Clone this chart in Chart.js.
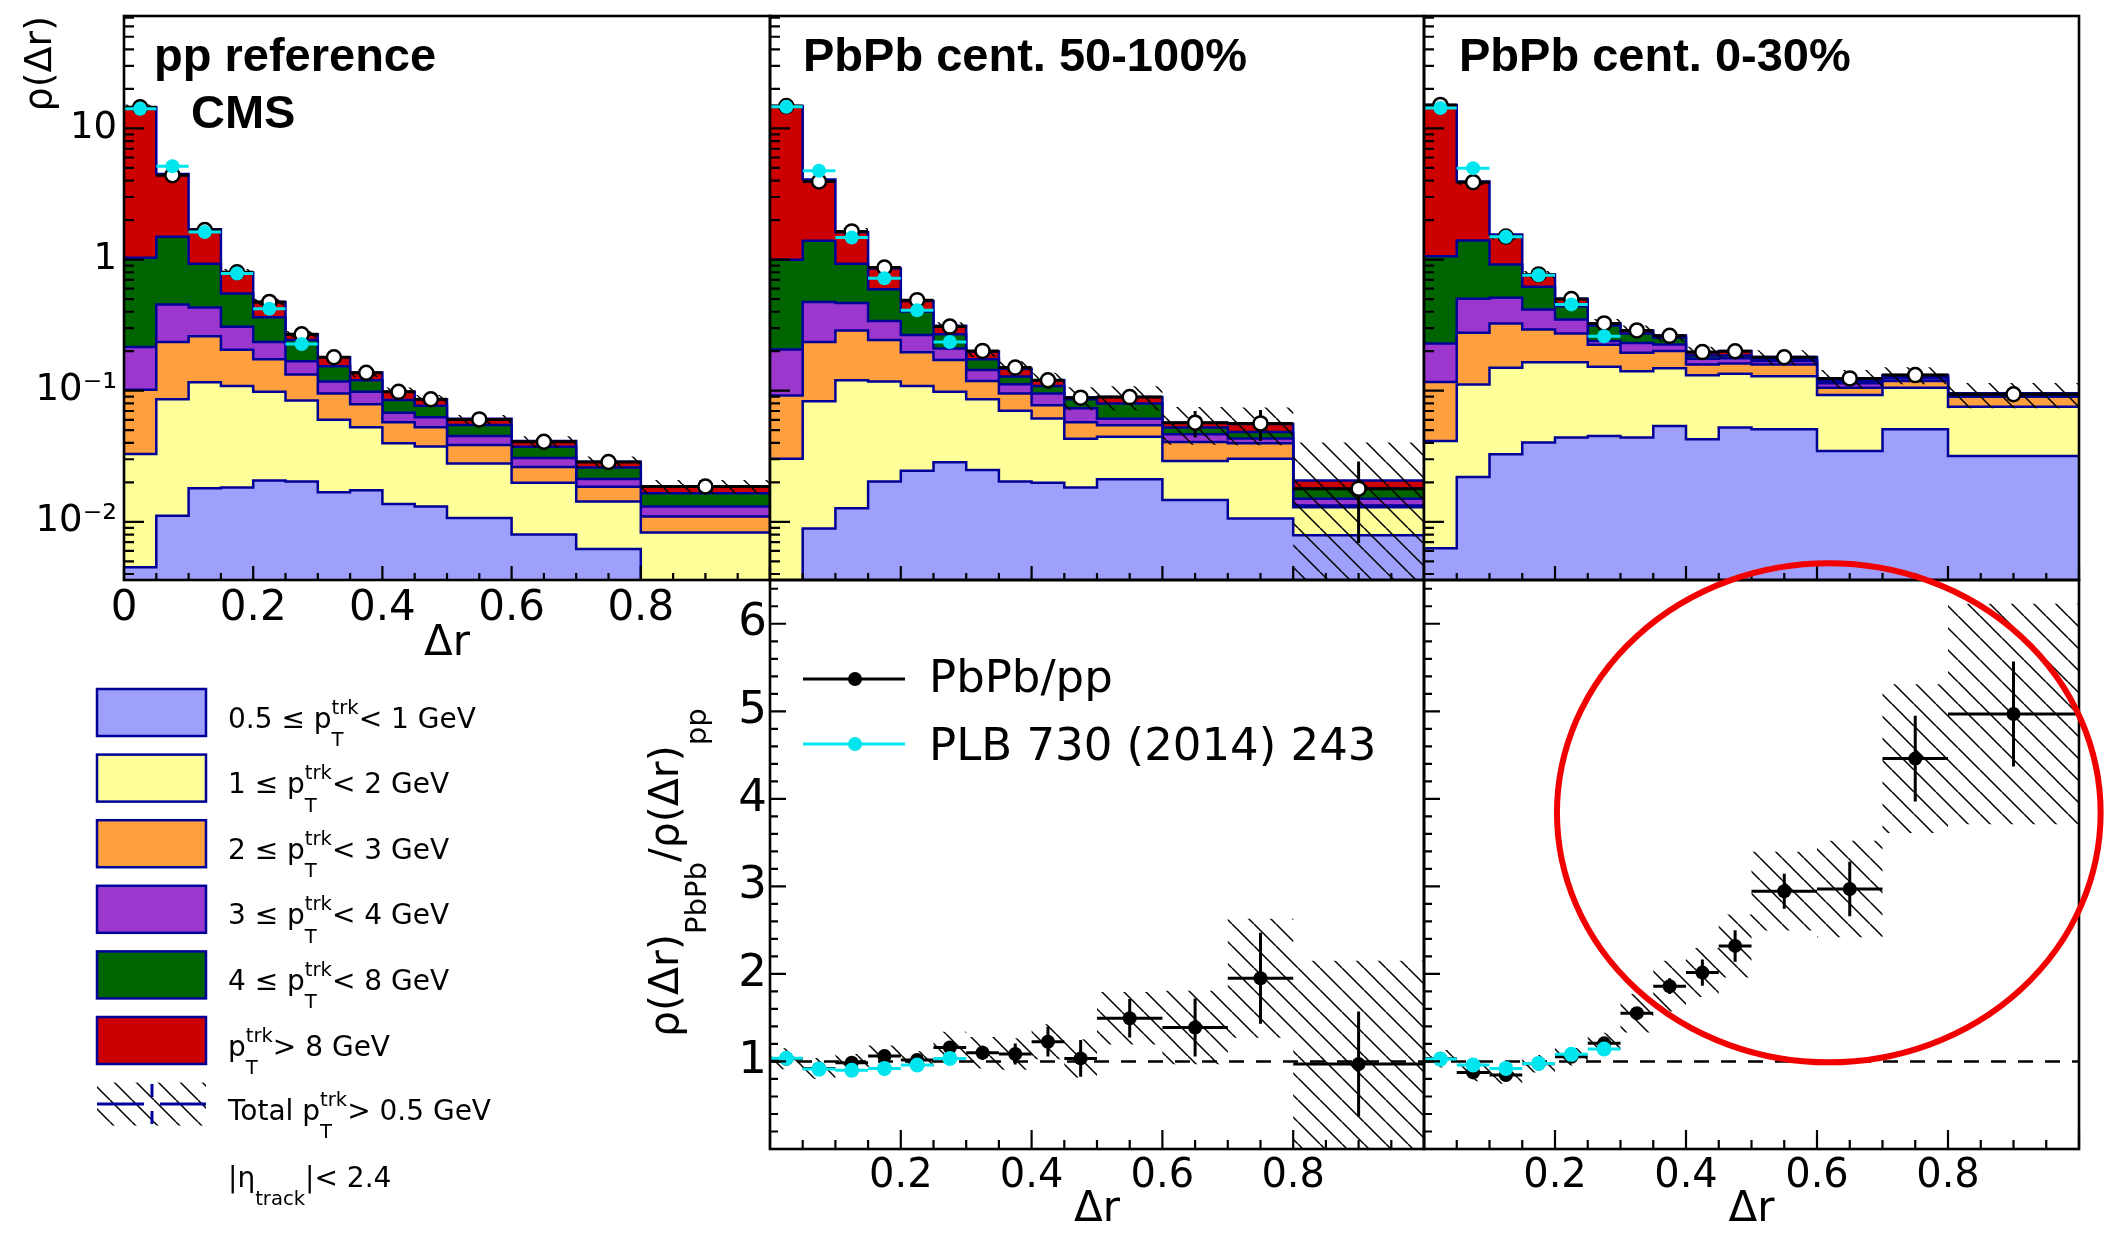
<!DOCTYPE html>
<html>
<head>
<meta charset="utf-8">
<title>Jet shapes decomposed by track pT</title>
<script src="https://cdn.jsdelivr.net/npm/chart.js@4.4.1/dist/chart.umd.min.js"></script>
<style>
  html, body { margin: 0; padding: 0; background: #ffffff; }
  #figure { position: relative; width: 2107px; height: 1240px; overflow: hidden; background: #ffffff; }
  #figure canvas { position: absolute; left: 0; top: 0; }
</style>
</head>
<body>
<div id="figure">
  <canvas id="ppTop" width="2107" height="1240"></canvas>
  <canvas id="periphTop" width="2107" height="1240"></canvas>
  <canvas id="centralTop" width="2107" height="1240"></canvas>
  <canvas id="periphRatio" width="2107" height="1240"></canvas>
  <canvas id="centralRatio" width="2107" height="1240"></canvas>
</div>
<script>
// ---------------------------------------------------------------
// Δr binning shared by every panel
const binEdges = [0, 0.05, 0.1, 0.15, 0.2, 0.25, 0.3, 0.35, 0.4, 0.45, 0.5, 0.6, 0.7, 0.8, 1.0];

// ρ(Δr) contributions per track-pT interval, pp reference
const ppPt0p5to1 = [0.0045, 0.0111, 0.018, 0.0183, 0.0207, 0.0203, 0.0168, 0.0174, 0.0137, 0.0131, 0.0107, 0.0080, 0.0062, 0.0025];
const ppPt1to2   = [0.0284, 0.0748, 0.098, 0.0903, 0.0775, 0.0638, 0.0433, 0.0352, 0.026, 0.0245, 0.0172, 0.0119, 0.0081, 0.0058];
const ppPt2to3   = [0.0687, 0.149, 0.144, 0.097, 0.0756, 0.0487, 0.035, 0.0261, 0.0177, 0.015, 0.0106, 0.0063, 0.0042, 0.0027];
const ppPt3to4   = [0.114, 0.219, 0.170, 0.102, 0.061, 0.0352, 0.0226, 0.0195, 0.0105, 0.0101, 0.0066, 0.0045, 0.0027, 0.0021];
const ppPt4to8   = [0.815, 1.036, 0.501, 0.243, 0.129, 0.075, 0.036, 0.0218, 0.0169, 0.0139, 0.0096, 0.0067, 0.0048, 0.0034];
const ppPtAbove8 = [13.5, 3.0, 0.77, 0.247, 0.111, 0.026, 0.026, 0.0175, 0.0134, 0.0093, 0.0065, 0.0039, 0.0027, 0.0022];
const ppTotal    = [14.5, 4.4, 1.68, 0.80, 0.475, 0.269, 0.18, 0.137, 0.098, 0.086, 0.0604, 0.0408, 0.0286, 0.0186];
const ppTotalStat = [0, 0, 0, 0, 0, 0, 0, 0, 0, 0, 0, 0, 0, 0.001];
const ppTotalSystRel = [0.05, 0.05, 0.05, 0.06, 0.06, 0.06, 0.07, 0.07, 0.08, 0.08, 0.08, 0.1, 0.1, 0.12];
const ppPLB      = [14.1, 5.15, 1.62, 0.782, 0.421, 0.227];

// PbPb, centrality 50-100%
const periphPt0p5to1 = [0.003, 0.0089, 0.0127, 0.0203, 0.0245, 0.0284, 0.0248, 0.0203, 0.0199, 0.0183, 0.0211, 0.0147, 0.0106, 0.0079];
const periphPt1to2   = [0.0273, 0.0741, 0.1073, 0.0974, 0.0841, 0.0698, 0.0611, 0.0499, 0.0415, 0.0247, 0.0235, 0.0144, 0.0197, 0.0050];
const periphPt2to3   = [0.0615, 0.152, 0.1677, 0.1253, 0.0874, 0.0732, 0.0327, 0.0249, 0.0162, 0.0144, 0.0098, 0.0115, 0.0094, 0.0004];
const periphPt3to4   = [0.114, 0.24, 0.178, 0.097, 0.0695, 0.0386, 0.0254, 0.0171, 0.0175, 0.0162, 0.0068, 0.0059, 0.0034, 0.0017];
const periphPt4to8   = [0.789, 0.918, 0.465, 0.253, 0.137, 0.059, 0.0298, 0.0163, 0.0135, 0.0123, 0.0188, 0.0058, 0.0053, 0.0029];
const periphPtAbove8 = [13.8, 2.68, 0.682, 0.26, 0.08, 0.044, 0.0249, 0.0185, 0.0114, 0.0028, 0.0094, 0.0047, 0.0072, 0.0028];
const periphTotal    = [14.8, 3.94, 1.64, 0.87, 0.49, 0.308, 0.201, 0.150, 0.120, 0.0885, 0.0894, 0.057, 0.0563, 0.0179];
const periphTotalStat = [0, 0, 0, 0, 0, 0, 0.002, 0.003, 0.004, 0.005, 0.005, 0.013, 0.015, 0.011];
const periphTotalSystRel = [0.05, 0.05, 0.06, 0.06, 0.07, 0.08, 0.1, 0.12, 0.14, 0.2, 0.21, 0.32, 0.32, 1.25];
const periphPLB      = [14.6, 4.75, 1.47, 0.721, 0.410, 0.235];

// PbPb, centrality 0-30%
const centralPt0p5to1 = [0.0063, 0.022, 0.0327, 0.0402, 0.0439, 0.0451, 0.0439, 0.0537, 0.0426, 0.0523, 0.0507, 0.0347, 0.0507, 0.0318];
const centralPt1to2   = [0.035, 0.0897, 0.117, 0.1248, 0.1211, 0.1069, 0.097, 0.0943, 0.0883, 0.0824, 0.0784, 0.0579, 0.0547, 0.0437];
const centralPt2to3   = [0.0751, 0.1648, 0.1763, 0.128, 0.108, 0.072, 0.0536, 0.0524, 0.0276, 0.0268, 0.0294, 0.0128, 0.0129, 0.0145];
const centralPt3to4   = [0.1126, 0.2255, 0.185, 0.123, 0.076, 0.015, 0.037, 0.0249, 0.0168, 0.0155, 0.010, 0.0083, 0.006, 0.002];
const centralPt4to8   = [0.831, 0.894, 0.405, 0.203, 0.092, 0.0753, 0.041, 0.0277, 0.0105, 0.0088, 0.006, 0.0055, 0.004, 0.002];
const centralPtAbove8 = [14.0, 2.54, 0.634, 0.15, 0.061, 0.012, 0.015, 0.0107, 0.011, 0.0146, 0.0058, 0.0048, 0.0032, 0.0014];
const centralTotal    = [15.1, 3.89, 1.50, 0.77, 0.50, 0.326, 0.288, 0.262, 0.197, 0.200, 0.180, 0.124, 0.1315, 0.094];
const centralTotalStat = [0, 0, 0, 0, 0, 0, 0, 0, 0, 0, 0, 0, 0, 0];
const centralTotalSystRel = [0.05, 0.05, 0.05, 0.06, 0.07, 0.08, 0.09, 0.1, 0.1, 0.11, 0.13, 0.16, 0.15, 0.22];
const centralPLB      = [14.3, 4.98, 1.49, 0.760, 0.455, 0.26];

// ρ(Δr)_PbPb / ρ(Δr)_pp
const ratioPeriph     = [1.03, 0.92, 0.985, 1.062, 1.016, 1.16, 1.10, 1.085, 1.226, 1.035, 1.494, 1.388, 1.95, 0.97];
const ratioPeriphStat = [0.02, 0.02, 0.03, 0.03, 0.03, 0.06, 0.08, 0.12, 0.17, 0.21, 0.22, 0.33, 0.52, 0.6];
const ratioPeriphSyst = [0.12, 0.12, 0.1, 0.12, 0.1, 0.18, 0.18, 0.18, 0.2, 0.22, 0.30, 0.42, 0.68, 1.18];
const ratioPeriphPLB  = [1.036, 0.913, 0.90, 0.92, 0.959, 1.035];

const ratioCentral     = [1.03, 0.875, 0.844, 0.975, 1.054, 1.207, 1.552, 1.86, 2.015, 2.32, 2.945, 2.97, 4.46, 4.97];
const ratioCentralStat = [0.02, 0.02, 0.02, 0.02, 0.03, 0.04, 0.05, 0.09, 0.15, 0.18, 0.2, 0.31, 0.49, 0.6];
const ratioCentralSyst = [0.1, 0.1, 0.1, 0.1, 0.1, 0.12, 0.22, 0.29, 0.28, 0.36, 0.45, 0.55, 0.85, 1.26];
const ratioCentralPLB  = [1.027, 0.959, 0.921, 0.978, 1.081, 1.142];

// Axis tick labels
const topXTickValues = [0, 0.2, 0.4, 0.6, 0.8];
const topXTickLabels = ['0', '0.2', '0.4', '0.6', '0.8'];
const ratioXTickValues = [0.2, 0.4, 0.6, 0.8];
const ratioXTickLabels = ['0.2', '0.4', '0.6', '0.8'];
const rhoTickValues = [0.01, 0.1, 1, 10];
const rhoTickLabels = ['10⁻²', '10⁻¹', '1', '10'];
const ratioYTickValues = [1, 2, 3, 4, 5, 6];
const ratioYTickLabels = ['1', '2', '3', '4', '5', '6'];

// Legend texts (strings, or stacked sub/superscript pairs)
const TRK = { sub: 'T', sup: 'trk' };
const ptBinLegend = [
  ['0.5 ≤ p', TRK, '< 1 GeV'],
  ['1 ≤ p', TRK, '< 2 GeV'],
  ['2 ≤ p', TRK, '< 3 GeV'],
  ['3 ≤ p', TRK, '< 4 GeV'],
  ['4 ≤ p', TRK, '< 8 GeV'],
  ['p', TRK, '> 8 GeV']
];
const totalLegend = ['Total p', TRK, '> 0.5 GeV'];
const etaLegend = ['|η', { sub: 'track' }, '|< 2.4'];
const ratioTitle = ['ρ(Δr)', { sub: 'PbPb' }, '/ρ(Δr)', { sub: 'pp' }];

// ---------------------------------------------------------------
const W = 2107, H = 1240;
const SANS = '"DejaVu Sans", sans-serif';
const BOLD = '"Liberation Sans", Arial, sans-serif';
const ptColors = ['#9f9ffc', '#ffff99', '#ff9f3d', '#9b37cd', '#006400', '#cc0000'];
const outlineColor = '#000099';
const plbColor = '#00e5ee';
const rhoMin = 0.0036, rhoMax = 72;
const ratioMin = 0, ratioMax = 6.5;

Chart.defaults.font.family = SANS;
Chart.defaults.color = '#000';

const binCenters = binEdges.slice(0, -1).map((e, i) => (e + binEdges[i + 1]) / 2);

function range(a, b, step) {
  const out = [];
  for (let v = a; v <= b + 1e-9; v += step) out.push(+v.toFixed(4));
  return out;
}
const xMajorMarks = range(0, 1, 0.2);
const xMinorMarks = range(0, 1, 0.05);
const logMajorMarks = rhoTickValues;
const logMinorMarks = [];
for (let d = -3; d <= 1; d++) for (let m = 2; m <= 9; m++) {
  const v = m * Math.pow(10, d);
  if (v > rhoMin && v < rhoMax) logMinorMarks.push(v);
}
const ratioMajorMarks = range(0, 6, 1);
const ratioMinorMarks = range(0, 6.4, 0.2);

// ---------- data helpers: everything goes through the chart scales ----------
function stepData(vals) {
  const pts = vals.map((v, i) => ({ x: binEdges[i], y: v }));
  pts.push({ x: binEdges[vals.length], y: vals[vals.length - 1] });
  return pts;
}
function hBarData(vals) {
  const out = [];
  vals.forEach((v, i) => out.push({ x: binEdges[i], y: v }, { x: binEdges[i + 1], y: v }, { x: binEdges[i + 1], y: null }));
  return out;
}
function vBarData(vals, errs, floor) {
  const out = [];
  vals.forEach((v, i) => {
    if (!errs[i]) return;
    out.push({ x: binCenters[i], y: Math.max(v - errs[i], floor) }, { x: binCenters[i], y: v + errs[i] }, { x: binCenters[i], y: null });
  });
  return out;
}
function pointData(vals) { return vals.map((v, i) => ({ x: binCenters[i], y: v })); }

function makeHatch(canvasId) {
  const s = 22;
  const tile = document.createElement('canvas');
  tile.width = s; tile.height = s;
  const g = tile.getContext('2d');
  g.strokeStyle = '#000';
  g.lineWidth = 1.5;
  g.beginPath();
  for (const o of [-s, 0, s]) { g.moveTo(o, 0); g.lineTo(o + s, s); }
  g.stroke();
  return document.getElementById(canvasId).getContext('2d').createPattern(tile, 'repeat');
}

function distributionDatasets(hatch, layers, total, stat, systRel, plb) {
  const sets = [];
  let run = layers[0].map(() => 0);
  layers.forEach((layer, k) => {
    run = run.map((r, i) => r + layer[i]);
    sets.push({ data: stepData(run), stepped: true, fill: 'start', backgroundColor: ptColors[k],
      borderColor: outlineColor, borderWidth: 2.5, pointRadius: 0, order: 100 + k });
  });
  sets.push({ data: stepData(total.map((t, i) => Math.max(t * (1 - systRel[i]), 1e-4))), stepped: true,
    fill: false, borderWidth: 0, pointRadius: 0, order: 61 });
  sets.push({ data: stepData(total.map((t, i) => t * (1 + systRel[i]))), stepped: true,
    fill: '-1', backgroundColor: hatch, borderWidth: 0, pointRadius: 0, order: 60 });
  sets.push({ data: hBarData(total).concat(vBarData(total, stat, 1e-4)), borderColor: '#000', borderWidth: 3,
    pointRadius: 0, fill: false, order: 50 });
  sets.push({ data: pointData(total), showLine: false, pointRadius: 7, pointBorderWidth: 2.5,
    pointBackgroundColor: '#ffffff', pointBorderColor: '#000', order: 40 });
  sets.push({ data: hBarData(plb), borderColor: plbColor, borderWidth: 3, pointRadius: 0, fill: false, order: 30 });
  sets.push({ data: pointData(plb), showLine: false, pointRadius: 7, pointBorderWidth: 0,
    pointBackgroundColor: plbColor, pointBorderColor: plbColor, order: 20 });
  return sets;
}

const unityRatio = 1;
function ratioDatasets(hatch, ratio, stat, syst, plb) {
  return [
    { data: stepData(ratio.map((r, i) => r - syst[i])), stepped: true, fill: false, borderWidth: 0, pointRadius: 0, order: 61 },
    { data: stepData(ratio.map((r, i) => r + syst[i])), stepped: true, fill: '-1', backgroundColor: hatch, borderWidth: 0, pointRadius: 0, order: 60 },
    { data: [{ x: 0, y: unityRatio }, { x: 1, y: unityRatio }], borderColor: '#000', borderWidth: 2.5, borderDash: [15, 12],
      pointRadius: 0, fill: false, order: 55 },
    { data: hBarData(ratio).concat(vBarData(ratio, stat, -10)), borderColor: '#000', borderWidth: 3, pointRadius: 0, fill: false, order: 50 },
    { data: pointData(ratio), showLine: false, pointRadius: 7, pointBorderWidth: 0, pointBackgroundColor: '#000', pointBorderColor: '#000', order: 40 },
    { data: hBarData(plb), borderColor: plbColor, borderWidth: 3, pointRadius: 0, fill: false, order: 30 },
    { data: pointData(plb), showLine: false, pointRadius: 7.5, pointBorderWidth: 0, pointBackgroundColor: plbColor, pointBorderColor: plbColor, order: 20 }
  ];
}

// ---------- text helpers ----------
function richText(ctx, parts, x, y, size, opt) {
  const o = Object.assign({ subScale: 0.7, subShift: 0.66, supShift: 0.5 }, opt || {});
  let cx = x;
  ctx.textBaseline = 'alphabetic';
  ctx.textAlign = 'left';
  for (const p of parts) {
    if (typeof p === 'string') {
      ctx.font = `${size}px ${SANS}`;
      ctx.fillText(p, cx, y);
      cx += ctx.measureText(p).width;
    } else {
      ctx.font = `${size * o.subScale}px ${SANS}`;
      let w = 0;
      if (p.sup) { ctx.fillText(p.sup, cx, y - size * o.supShift); w = Math.max(w, ctx.measureText(p.sup).width); }
      if (p.sub) { ctx.fillText(p.sub, cx, y + size * o.subShift); w = Math.max(w, ctx.measureText(p.sub).width); }
      cx += w;
    }
  }
  return cx - x;
}

function panelTitle(chart, lines) {
  const { ctx, chartArea: a } = chart;
  ctx.save();
  ctx.fillStyle = '#000';
  ctx.font = `bold 47px ${BOLD}`;
  ctx.textBaseline = 'alphabetic';
  ctx.textAlign = 'left';
  lines.forEach(l => ctx.fillText(l.text, a.left + l.dx, a.top + l.dy));
  ctx.restore();
}

// ---------- inner tick marks and the panel frame ----------
function framePlugin(spec) {
  return {
    id: 'panelFrame',
    afterDatasetsDraw(chart) {
      const { ctx, chartArea: a } = chart;
      const xs = chart.scales.x, ys = chart.scales.y;
      ctx.save();
      ctx.strokeStyle = '#000';
      ctx.lineWidth = 2.2;
      ctx.beginPath();
      const xm = (vals, len) => vals.forEach(v => {
        const p = xs.getPixelForValue(v);
        ctx.moveTo(p, a.bottom); ctx.lineTo(p, a.bottom - len);
      });
      const ym = (vals, len) => vals.forEach(v => {
        const p = ys.getPixelForValue(v);
        if (p < a.top - 0.5 || p > a.bottom + 0.5) return;
        ctx.moveTo(a.left, p); ctx.lineTo(a.left + len, p);
      });
      xm(spec.xMinor, spec.xLen[1]); xm(spec.xMajor, spec.xLen[0]);
      ym(spec.yMinor, spec.yLen[1]); ym(spec.yMajor, spec.yLen[0]);
      ctx.stroke();
      ctx.lineWidth = 2.6;
      ctx.strokeRect(a.left, a.top, a.right - a.left, a.bottom - a.top);
      ctx.restore();
    },
    afterDraw(chart) { if (spec.extra) spec.extra(chart); }
  };
}

const fixedTicks = vals => scale => { scale.ticks = vals.map(v => ({ value: v })); };
// Fixed axis box sizes, and no label overhang pushing the plot area around
const fixedWidth = w => s => { s.width = w; s.paddingTop = 0; s.paddingBottom = 0; s.paddingLeft = 0; s.paddingRight = 0; };
const fixedHeight = h => s => { s.height = h; s.paddingTop = 0; s.paddingBottom = 0; s.paddingLeft = 0; s.paddingRight = 0; };
const noGrid = { display: false, drawTicks: false };
const noBorder = { display: false };

function chartOptions(rect, yW, xH, scales) {
  return {
    responsive: false, animation: false, devicePixelRatio: 1, events: [],
    layout: { padding: { left: rect.left - yW, top: rect.top, right: W - rect.right, bottom: H - rect.bottom - xH } },
    plugins: { legend: { display: false }, tooltip: { enabled: false } },
    scales
  };
}

// Panel placement on the page
const rects = {
  ppTop:        { left: 124,  top: 16,  right: 770,  bottom: 580 },
  periphTop:    { left: 770,  top: 16,  right: 1424, bottom: 580 },
  centralTop:   { left: 1424, top: 16,  right: 2079, bottom: 580 },
  periphRatio:  { left: 770,  top: 580, right: 1424, bottom: 1149 },
  centralRatio: { left: 1424, top: 580, right: 2079, bottom: 1149 }
};

const topTicks = { xMajor: xMajorMarks, xMinor: xMinorMarks, xLen: [14, 7], yMajor: logMajorMarks, yMinor: logMinorMarks, yLen: [20, 10] };
const ratioTicks = { xMajor: xMajorMarks, xMinor: xMinorMarks, xLen: [19, 9], yMajor: ratioMajorMarks, yMinor: ratioMinorMarks, yLen: [16, 8] };

function hiddenLinearX() { return { type: 'linear', min: 0, max: 1, display: false }; }
function hiddenLogY() { return { type: 'logarithmic', min: rhoMin, max: rhoMax, display: false }; }

// ---------- top-left legend ----------
function drawPtLegend(chart) {
  const ctx = chart.ctx;
  const bx = 97, bw = 109, bh = 47, top0 = 689, pitch = 65.6, tx = 228;
  ctx.save();
  ptBinLegend.forEach((parts, k) => {
    const y = top0 + k * pitch;
    ctx.fillStyle = ptColors[k];
    ctx.fillRect(bx, y, bw, bh);
    ctx.strokeStyle = outlineColor;
    ctx.lineWidth = 2.5;
    ctx.strokeRect(bx, y, bw, bh);
    ctx.fillStyle = '#000';
    richText(ctx, parts, tx, y + 38.5, 28);
  });
  // total: hatched band with error-bar marker
  const ty = top0 + 6 * pitch;
  ctx.fillStyle = makeHatch('ppTop');
  ctx.fillRect(bx, ty, bw, bh - 4);
  ctx.strokeStyle = outlineColor;
  ctx.lineWidth = 3;
  ctx.beginPath();
  const cy = ty + 21.5, cx = bx + 55;
  ctx.moveTo(bx, cy); ctx.lineTo(cx - 8, cy);
  ctx.moveTo(cx + 8, cy); ctx.lineTo(bx + bw, cy);
  ctx.moveTo(cx, cy - 20); ctx.lineTo(cx, cy - 7);
  ctx.moveTo(cx, cy + 7); ctx.lineTo(cx, cy + 20);
  ctx.stroke();
  ctx.fillStyle = '#000';
  richText(ctx, totalLegend, tx, ty + 37, 28);
  richText(ctx, etaLegend, tx, 1187, 28);
  ctx.restore();
}

// ---------- ratio legend and y title ----------
function drawRatioLegend(chart) {
  const ctx = chart.ctx;
  ctx.save();
  const rows = [
    { color: '#000', text: 'PbPb/pp', y: 679, base: 692 },
    { color: plbColor, text: 'PLB 730 (2014) 243', y: 744, base: 759.5 }
  ];
  rows.forEach(r => {
    ctx.strokeStyle = r.color;
    ctx.lineWidth = 3;
    ctx.beginPath(); ctx.moveTo(803, r.y); ctx.lineTo(905, r.y); ctx.stroke();
    ctx.fillStyle = r.color;
    ctx.beginPath(); ctx.arc(855, r.y, 7, 0, Math.PI * 2); ctx.fill();
    ctx.fillStyle = '#000';
    ctx.font = `45px ${SANS}`;
    ctx.textBaseline = 'alphabetic';
    ctx.textAlign = 'left';
    ctx.fillText(r.text, 929, r.base);
  });
  // rotated y-axis title with subscripts
  ctx.translate(678, 1037);
  ctx.rotate(-Math.PI / 2);
  ctx.fillStyle = '#000';
  richText(ctx, ratioTitle, 0, 0, 41, { subScale: 0.71, subShift: 0.68 });
  ctx.restore();
}

// Highlight drawn around the central-collision excess, in data units
const highlight = { cx: 0.618, cy: 3.84, rx: 0.415, ry: 2.85 };
function drawHighlight(chart) {
  const { ctx, scales: { x, y } } = chart;
  const px = x.getPixelForValue(highlight.cx), py = y.getPixelForValue(highlight.cy);
  const rx = x.getPixelForValue(highlight.cx + highlight.rx) - px;
  const ry = py - y.getPixelForValue(highlight.cy + highlight.ry);
  ctx.save();
  ctx.strokeStyle = '#f20000';
  ctx.lineWidth = 6;
  ctx.beginPath();
  ctx.ellipse(px, py, rx, ry, 0, 0, Math.PI * 2);
  ctx.stroke();
  ctx.restore();
}

// ---------- charts ----------
new Chart(document.getElementById('ppTop'), {
  type: 'line',
  data: { datasets: distributionDatasets(makeHatch('ppTop'),
    [ppPt0p5to1, ppPt1to2, ppPt2to3, ppPt3to4, ppPt4to8, ppPtAbove8], ppTotal, ppTotalStat, ppTotalSystRel, ppPLB) },
  options: chartOptions(rects.ppTop, 124, 100, {
    x: { type: 'linear', min: 0, max: 1, afterBuildTicks: fixedTicks(topXTickValues), afterFit: fixedHeight(100),
      grid: noGrid, border: noBorder,
      ticks: { autoSkip: false, maxRotation: 0, padding: 4, font: { family: SANS, size: 42 }, callback: (v, i) => topXTickLabels[i] },
      title: { display: true, text: 'Δr', font: { family: SANS, size: 42 }, padding: { top: 0, bottom: 11 } } },
    y: { type: 'logarithmic', min: rhoMin, max: rhoMax, afterBuildTicks: fixedTicks(rhoTickValues), afterFit: fixedWidth(124),
      grid: noGrid, border: noBorder,
      ticks: { autoSkip: false, padding: 7, font: { family: SANS, size: 37 }, callback: (v, i) => rhoTickLabels[i] },
      title: { display: true, text: 'ρ(Δr)', align: 'end', font: { family: SANS, size: 38 }, padding: { top: 18, bottom: 0 } } }
  }),
  plugins: [framePlugin(Object.assign({}, topTicks, { extra: chart => {
    panelTitle(chart, [{ text: 'pp reference', dx: 30, dy: 55 }, { text: 'CMS', dx: 67, dy: 112 }]);
    drawPtLegend(chart);
  } }))]
});

new Chart(document.getElementById('periphTop'), {
  type: 'line',
  data: { datasets: distributionDatasets(makeHatch('periphTop'),
    [periphPt0p5to1, periphPt1to2, periphPt2to3, periphPt3to4, periphPt4to8, periphPtAbove8], periphTotal, periphTotalStat, periphTotalSystRel, periphPLB) },
  options: chartOptions(rects.periphTop, 0, 0, { x: hiddenLinearX(), y: hiddenLogY() }),
  plugins: [framePlugin(Object.assign({}, topTicks, { extra: chart => panelTitle(chart, [{ text: 'PbPb cent. 50-100%', dx: 33, dy: 55 }]) }))]
});

new Chart(document.getElementById('centralTop'), {
  type: 'line',
  data: { datasets: distributionDatasets(makeHatch('centralTop'),
    [centralPt0p5to1, centralPt1to2, centralPt2to3, centralPt3to4, centralPt4to8, centralPtAbove8], centralTotal, centralTotalStat, centralTotalSystRel, centralPLB) },
  options: chartOptions(rects.centralTop, 0, 0, { x: hiddenLinearX(), y: hiddenLogY() }),
  plugins: [framePlugin(Object.assign({}, topTicks, { extra: chart => panelTitle(chart, [{ text: 'PbPb cent. 0-30%', dx: 35, dy: 55 }]) }))]
});

function ratioX() {
  return { type: 'linear', min: 0, max: 1, afterBuildTicks: fixedTicks(ratioXTickValues), afterFit: fixedHeight(91),
    grid: noGrid, border: noBorder,
    ticks: { autoSkip: false, maxRotation: 0, padding: 4, font: { family: SANS, size: 40 }, callback: (v, i) => ratioXTickLabels[i] },
    title: { display: true, text: 'Δr', font: { family: SANS, size: 42 }, padding: { top: 0, bottom: 5 } } };
}

new Chart(document.getElementById('periphRatio'), {
  type: 'line',
  data: { datasets: ratioDatasets(makeHatch('periphRatio'), ratioPeriph, ratioPeriphStat, ratioPeriphSyst, ratioPeriphPLB) },
  options: chartOptions(rects.periphRatio, 100, 91, {
    x: ratioX(),
    y: { type: 'linear', min: ratioMin, max: ratioMax, afterBuildTicks: fixedTicks(ratioYTickValues), afterFit: fixedWidth(100),
      grid: noGrid, border: noBorder,
      ticks: { autoSkip: false, padding: 3, font: { family: SANS, size: 45 }, callback: (v, i) => ratioYTickLabels[i] } }
  }),
  plugins: [framePlugin(Object.assign({}, ratioTicks, { extra: drawRatioLegend }))]
});

new Chart(document.getElementById('centralRatio'), {
  type: 'line',
  data: { datasets: ratioDatasets(makeHatch('centralRatio'), ratioCentral, ratioCentralStat, ratioCentralSyst, ratioCentralPLB) },
  options: chartOptions(rects.centralRatio, 0, 91, {
    x: ratioX(),
    y: { type: 'linear', min: ratioMin, max: ratioMax, display: false }
  }),
  plugins: [framePlugin(Object.assign({}, ratioTicks, { extra: drawHighlight }))]
});
</script>
</body>
</html>
